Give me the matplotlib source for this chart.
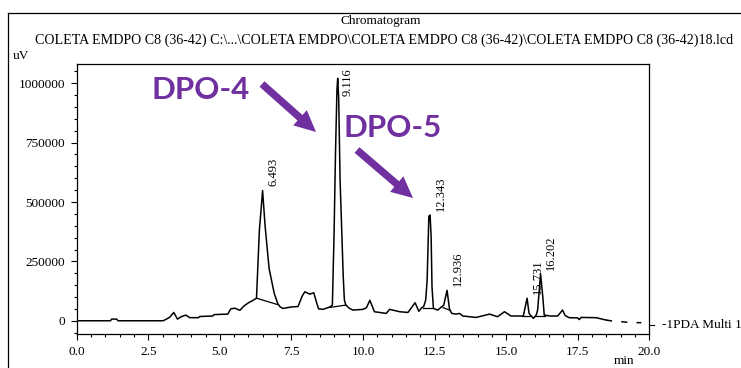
#!/usr/bin/env python3
"""Chromatogram of COLETA EMDPO C8 (36-42) with the DPO-4 / DPO-5 callouts."""

import matplotlib
matplotlib.use("Agg")
import matplotlib.pyplot as plt  # noqa: E402
from matplotlib.lines import Line2D  # noqa: E402
from matplotlib.patches import FancyArrowPatch  # noqa: E402
from matplotlib.ticker import MultipleLocator, FormatStrFormatter  # noqa: E402

# Detector trace (min, uV).
time_min = [
    0.00, 1.18, 1.22, 1.40, 1.44, 3.02, 3.15, 3.25, 3.39, 3.52,
    3.65, 3.81, 3.95, 4.25, 4.30, 4.75, 4.80, 5.28, 5.38, 5.52,
    5.70, 5.84, 5.99, 6.16, 6.28, 6.38, 6.493, 6.58, 6.72, 6.90,
    7.02, 7.10, 7.20, 7.50, 7.73, 7.88, 7.97, 8.14, 8.28, 8.37,
    8.45, 8.60, 8.84, 8.93, 8.99, 9.04, 9.09, 9.116, 9.15, 9.20,
    9.26, 9.31, 9.35, 9.40, 9.53, 9.65, 10.00, 10.12, 10.24, 10.40,
    10.81, 10.93, 11.28, 11.57, 11.82, 11.95, 12.05, 12.12, 12.19, 12.24,
    12.30, 12.343, 12.38, 12.41, 12.46, 12.61, 12.82, 12.936, 13.02, 13.10,
    13.25, 13.37, 13.49, 13.95, 14.42, 14.70, 14.94, 15.17, 15.60, 15.731,
    15.80, 15.95, 16.05, 16.10, 16.202, 16.28, 16.33, 16.53, 16.80, 16.97,
    17.06, 17.20, 17.50, 17.55, 17.62, 18.14, 18.49,
]
signal_uv = [
    0, 0, 7000, 7000, 0, 0, 8000, 15000, 35000, 7000,
    17000, 24000, 13000, 13000, 18000, 20000, 26000, 28000, 50000, 53000,
    44000, 62000, 75000, 86000, 95000, 380000, 548000, 400000, 220000, 115000,
    73000, 59000, 52000, 58000, 60000, 105000, 122000, 112000, 118000, 80000,
    50000, 48000, 58000, 66000, 370000, 710000, 970000, 1021000, 940000, 590000,
    370000, 185000, 87000, 66000, 52000, 45000, 48000, 55000, 86000, 38000,
    31000, 48000, 38000, 35000, 76000, 40000, 55000, 60000, 87000, 171000,
    440000, 445000, 354000, 143000, 52000, 45000, 66000, 128000, 50000, 31000,
    28000, 31000, 20000, 14000, 28000, 17000, 38000, 20000, 20000, 95000,
    31000, 10000, 24000, 45000, 197000, 101000, 24000, 20000, 20000, 45000,
    22000, 13000, 12000, 5000, 14000, 13000, 3000,
]

# End of the run, drawn broken in the export.
tail_time = [18.49, 18.70, 18.95, 19.20, 19.45, 19.72]
tail_uv = [3000, -1000, -3000, -6000, -8000, -8000]

# Integration baselines under the labelled peaks.
base_t0 = [6.28, 8.84, 12.09, 12.80, 15.56, 16.02]
base_v0 = [95000, 56000, 52000, 55000, 20000, 20000]
base_t1 = [7.02, 9.40, 12.46, 13.02, 15.85, 16.35]
base_v1 = [68000, 66000, 52000, 45000, 20000, 20000]

peak_rt = [6.493, 9.116, 12.343, 12.936, 15.731, 16.202]
peak_uv = [548000, 1021000, 445000, 128000, 95000, 197000]

x_ticks = [0.0, 2.5, 5.0, 7.5, 10.0, 12.5, 15.0, 17.5, 20.0]
y_ticks = [0, 250000, 500000, 750000, 1000000]

PURPLE = "#7030a0"
W, H = 741, 368


def fx(px):
    return px / W


def fy(py):
    return 1 - py / H


plt.rcParams["font.family"] = "Liberation Serif"
plt.rcParams["font.size"] = 9.5

fig = plt.figure(figsize=(W / 100, H / 100), dpi=100)
ax = fig.add_axes([fx(76.7), fy(334.3), fx(649.3) - fx(76.7), fy(64) - fy(334.3)])

ax.plot(time_min, signal_uv, color="black", lw=1.1)
ax.plot(tail_time, tail_uv, color="black", lw=1.1, dashes=(4, 6))
for t0, v0, t1, v1 in zip(base_t0, base_v0, base_t1, base_v1):
    ax.plot([t0, t1], [v0, v1], color="black", lw=0.9)

ax.set_xlim(0, 20)
ax.set_ylim(-57000, 1081000)
ax.set_xticks(x_ticks)
ax.set_yticks(y_ticks)
ax.xaxis.set_major_formatter(FormatStrFormatter("%.1f"))
ax.yaxis.set_major_formatter(FormatStrFormatter("%d"))
ax.xaxis.set_minor_locator(MultipleLocator(0.5))
ax.yaxis.set_minor_locator(MultipleLocator(50000))
ax.tick_params(which="major", direction="out", length=4.5, width=0.8, pad=4)
ax.tick_params(which="minor", direction="out", length=2.5, width=0.8)
for sp in ax.spines.values():
    sp.set_linewidth(0.9)

# Retention-time labels, rotated like the instrument export.
for rt, uv in zip(peak_rt, peak_uv):
    label = f"{rt:.3f}"
    if uv > 900000:
        ax.annotate(label, xy=(rt, 1), xycoords=("data", "axes fraction"),
                    xytext=(7.5, -3), textcoords="offset points",
                    rotation=90, ha="center", va="top", fontsize=9)
    else:
        ax.annotate(label, xy=(rt, uv), xytext=(7.5, 3),
                    textcoords="offset points",
                    rotation=90, ha="center", va="bottom", fontsize=9)

# Channel name next to the end of the trace.
ax.annotate("-1PDA Multi 1", xy=(1, -18000), xycoords=("axes fraction", "data"),
            xytext=(9, 0), textcoords="offset points", va="center", ha="left",
            annotation_clip=False)
ax.plot([1.0, 1.008], [-18000, -18000], transform=ax.get_yaxis_transform(),
        color="black", lw=0.8, clip_on=False)

# Header and outer frame.
fig.text(fx(381), fy(21), "Chromatogram", ha="center", va="center")
fig.text(fx(384), fy(40),
         "COLETA EMDPO C8 (36-42) C:\\...\\COLETA EMDPO\\COLETA EMDPO C8 (36-42)"
         "\\COLETA EMDPO C8 (36-42)18.lcd", ha="center", va="center",
         fontsize=10.1)
fig.text(fx(13), fy(56), "uV", ha="left", va="center")
fig.text(fx(624), fy(367.5), "min", ha="center", va="bottom")
fig.add_artist(Line2D([fx(8), fx(8)], [fy(13), 0], color="black", lw=0.9))
fig.add_artist(Line2D([fx(8), 1], [fy(13), fy(13)], color="black", lw=0.9))

# Purple callouts.
callouts = [
    ("DPO-4", (152, 90), (262, 84), (316, 132)),
    ("DPO-5", (344, 128), (357, 150), (413, 198)),
]
for text, (tx, ty), (ax0, ay0), (ax1, ay1) in callouts:
    fig.text(fx(tx), fy(ty), text, ha="left", va="center", color=PURPLE,
             fontsize=22.5, fontweight="bold", family="Lato")
    fig.add_artist(FancyArrowPatch(
        (fx(ax0), fy(ay0)), (fx(ax1), fy(ay1)), transform=fig.transFigure,
        arrowstyle="simple,head_width=1.05,head_length=1.1,tail_width=0.38",
        mutation_scale=14, color=PURPLE, lw=0, shrinkA=0, shrinkB=0))

fig.savefig("out.png", dpi=100)
